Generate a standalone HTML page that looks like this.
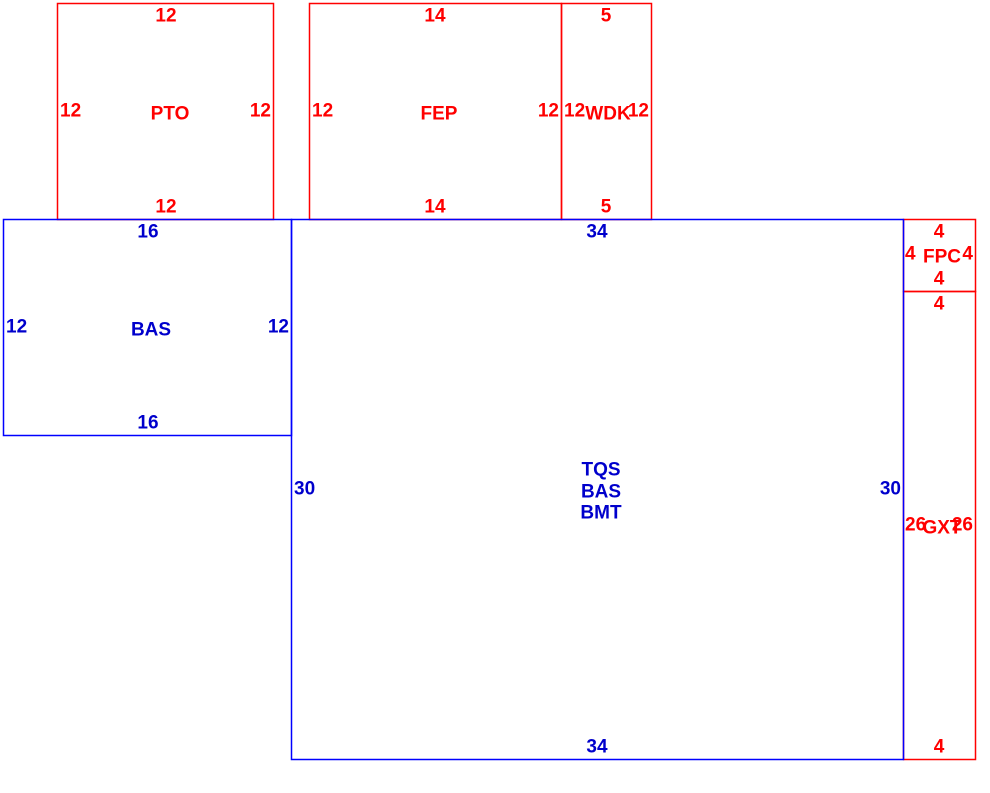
<!DOCTYPE html>
<html><head><style>
html,body{margin:0;padding:0;background:#fff;}
svg{display:block;}
text{font-family:"Liberation Sans",Arial,sans-serif;font-size:19px;font-weight:bold;dominant-baseline:central;}
.r{fill:#f00;} .b{fill:#00c;}
</style></head><body>
<svg width="990" height="793" viewBox="0 0 990 793">
<rect x="57.5" y="3.5" width="216" height="216" fill="none" stroke="#ff0000" stroke-width="1.5"/>
<rect x="309.5" y="3.5" width="252" height="216" fill="none" stroke="#ff0000" stroke-width="1.5"/>
<rect x="561.5" y="3.5" width="90" height="216" fill="none" stroke="#ff0000" stroke-width="1.5"/>
<rect x="903.5" y="219.5" width="72" height="72" fill="none" stroke="#ff0000" stroke-width="1.5"/>
<rect x="903.5" y="291.5" width="72" height="468" fill="none" stroke="#ff0000" stroke-width="1.5"/>
<rect x="3.5" y="219.5" width="288" height="216" fill="none" stroke="#0000ff" stroke-width="1.5"/>
<rect x="291.5" y="219.5" width="612" height="540" fill="none" stroke="#0000ff" stroke-width="1.5"/>
<g class="r" text-anchor="middle">
<text x="166" y="16">12</text><text x="166" y="207">12</text><text x="170" y="114">PTO</text>
<text x="435" y="16">14</text><text x="435" y="207">14</text><text x="439" y="114">FEP</text>
<text x="606" y="16">5</text><text x="606" y="207">5</text><text x="608" y="114">WDK</text>
<text x="939" y="232">4</text><text x="939" y="279">4</text><text x="942" y="257">FPC</text>
<text x="939" y="304">4</text><text x="939" y="747">4</text><text x="942" y="528">GXT</text>
</g>
<g class="r">
<text x="60" y="111">12</text><text x="271" y="111" text-anchor="end">12</text>
<text x="312" y="111">12</text><text x="559" y="111" text-anchor="end">12</text>
<text x="564" y="111">12</text><text x="649" y="111" text-anchor="end">12</text>
<text x="905" y="254">4</text><text x="973" y="254" text-anchor="end">4</text>
<text x="905" y="525">26</text><text x="973" y="525" text-anchor="end">26</text>
</g>
<g class="b" text-anchor="middle">
<text x="148" y="232">16</text><text x="148" y="423">16</text><text x="151" y="330">BAS</text>
<text x="597" y="232">34</text><text x="597" y="747">34</text>
<text x="601" y="470">TQS</text><text x="601" y="492">BAS</text><text x="601" y="513">BMT</text>
</g>
<g class="b">
<text x="6" y="327">12</text><text x="289" y="327" text-anchor="end">12</text>
<text x="294" y="489">30</text><text x="901" y="489" text-anchor="end">30</text>
</g>
</svg>
</body></html>
